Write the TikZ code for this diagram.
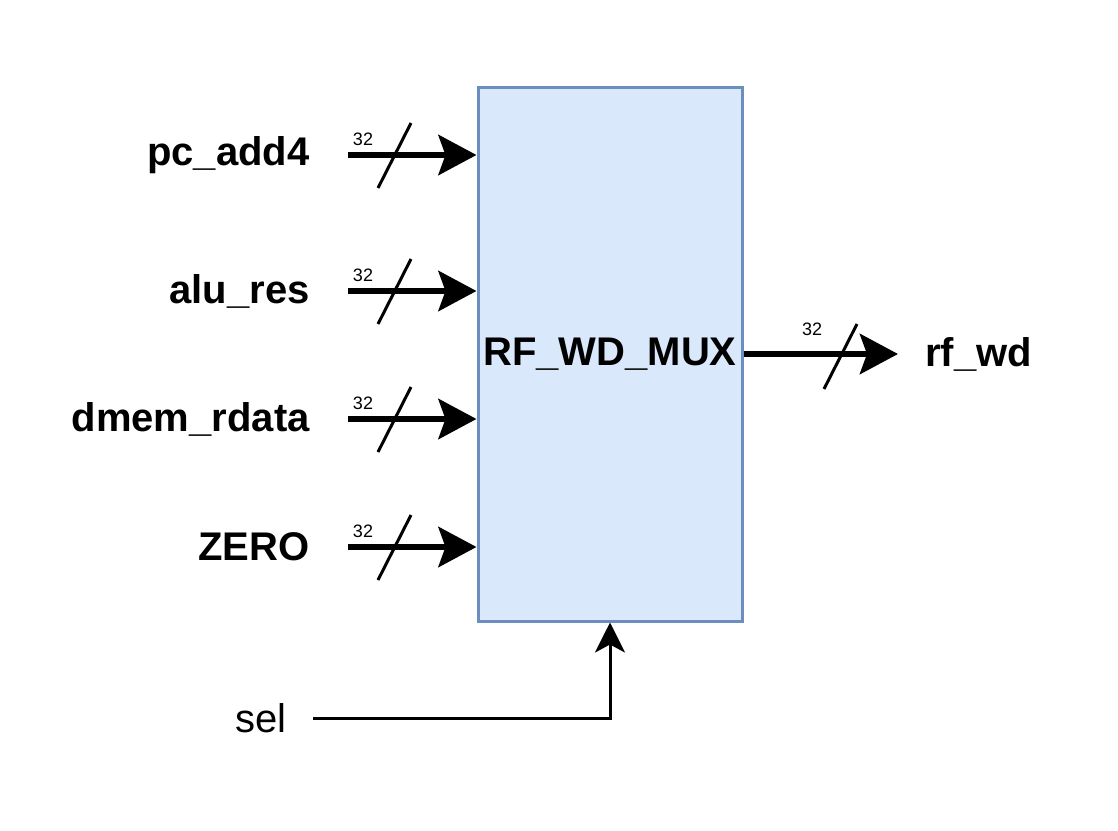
\documentclass[tikz,border=0pt]{standalone}
\usepackage{fontspec}
\setmainfont{Liberation Sans}
\usetikzlibrary{arrows.meta}
\definecolor{muxfill}{HTML}{DAE8FC}
\definecolor{muxline}{HTML}{6C8EBF}
\begin{document}
\begin{tikzpicture}[x=.5pt,y=-.5pt,
  lbl/.style={font=\bfseries\fontsize{20}{24}\selectfont,inner sep=0pt},
  bus/.style={line width=3.2pt,-{Stealth[length=19pt,width=20pt,inset=3.5pt]}},
  slash/.style={line width=1.5pt},
  bits/.style={font=\fontsize{9}{11}\selectfont,inner sep=0pt}]
\useasboundingbox (0,0) rectangle (1118,830);
\node[draw=muxline,fill=muxfill,line width=1.5pt,minimum width=132pt,minimum height=267pt,lbl] (mux) at (610,354) {RF\_WD\_MUX};
\foreach \n/\t/\y in {pc/pc\_add4/155,alu/alu\_res/291,dmem/dmem\_rdata/419,zero/ZERO/547} {
  \node[lbl,anchor=east] (\n) at (310,\y) {\t};
  \draw[bus,shorten <=19pt] (\n.east) -- (\n.east -| mux.west);
  \draw[slash] (378,\y+33) -- (411,\y-32);
  \node[bits] at (363,\y-16) {32};
}
\node[lbl,anchor=west] (rfwd) at (925,354) {rf\_wd};
\draw[bus,shorten >=13.5pt] (mux.east) -- (rfwd.west);
\draw[slash] (824,389) -- (857,324);
\node[bits] at (812,329) {32};
\node[font=\fontsize{20}{24}\selectfont,inner sep=0pt,anchor=east] (sel) at (287,718) {sel};
\draw[line width=1.5pt,-{Stealth[length=15pt,width=15pt,inset=4pt]},shorten <=13pt] (sel.east) -| (mux.south);
\end{tikzpicture}
\end{document}
